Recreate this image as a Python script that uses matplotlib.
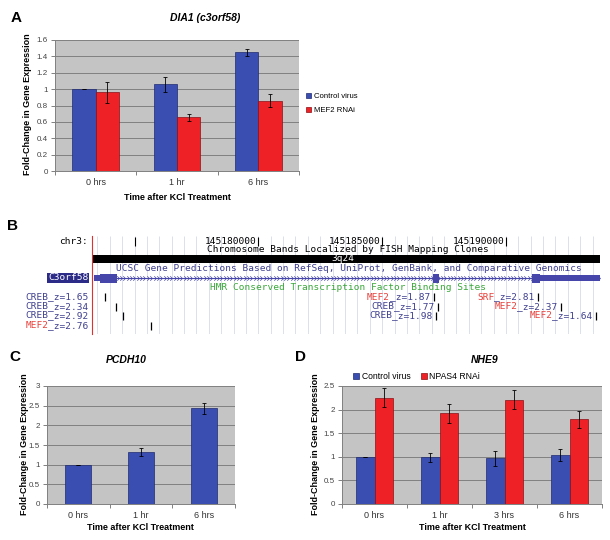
import numpy as np
import matplotlib.pyplot as plt
from matplotlib.path import Path
from matplotlib.ticker import FuncFormatter

plt.rcParams['font.family'] = ['Liberation Sans', 'DejaVu Sans']

# ---- A: DIA1 (c3orf58) ----
times_a = ['0 hrs', '1 hr', '6 hrs']
ctrl_a = [1.0, 1.06, 1.45]
ctrl_a_err = [0.0, 0.09, 0.045]
mef2_a = [0.96, 0.655, 0.86]
mef2_a_err = [0.13, 0.04, 0.075]

# ---- C: PCDH10 ----
times_c = ['0 hrs', '1 hr', '6 hrs']
pcdh10 = [1.0, 1.32, 2.43]
pcdh10_err = [0.0, 0.095, 0.15]

# ---- D: NHE9 ----
times_d = ['0 hrs', '1 hr', '3 hrs', '6 hrs']
ctrl_d = [1.0, 0.99, 0.97, 1.04]
ctrl_d_err = [0.0, 0.1, 0.16, 0.13]
npas4_d = [2.25, 1.92, 2.21, 1.80]
npas4_d_err = [0.2, 0.2, 0.2, 0.18]

# ---- B: UCSC browser view of chr3 ----
view = (145173280, 145193800)
base_ticks = [145175000, 145180000, 145185000, 145190000]
base_labels = ['', '145180000', '145185000', '145190000']
gene_span = (145173360, 145193800)
exon_start = [145173360, 145173600, 145187050, 145191050, 145191380]
exon_end = [145173600, 145174290, 145187290, 145191380, 145193800]
exon_thick = [False, True, True, True, False]
tf_names = ['CREB', 'CREB', 'CREB', 'MEF2', 'MEF2', 'CREB', 'CREB', 'SRF', 'MEF2', 'MEF2']
tf_z = [1.65, 2.34, 2.92, 2.76, 1.87, 1.77, 1.98, 2.81, 2.37, 1.64]
tf_pos = [145173810, 145174250, 145174530, 145175670, 145187080,
          145187250, 145187170, 145191300, 145192230, 145193640]
tf_row = [0, 1, 2, 3, 0, 1, 2, 0, 1, 2]
tf_left_label = [True, True, True, True, False, False, False, False, False, False]

W, H = 610, 540
fig = plt.figure(figsize=(W / 100, H / 100), dpi=100)

BLUE, BLUE_E = '#3a4db0', '#1f2a70'
RED, RED_E = '#ee2127', '#8a1015'


def px_axes(l, t, r, b):
    return fig.add_axes([l / W, 1 - b / H, (r - l) / W, (b - t) / H])


def ptext(x, y, s, **kw):
    kw.setdefault('ha', 'center')
    kw.setdefault('va', 'center')
    fig.text(x / W, 1 - y / H, s, **kw)


def bar_panel(box, cats, series, width, ymax, step):
    ax = px_axes(*box)
    ax.set_facecolor('#c4c4c4')
    x = np.arange(len(cats))
    n = len(series)
    for i, (vals, errs, col, edge, lab) in enumerate(series):
        off = (i - (n - 1) / 2) * width
        ax.bar(x + off, vals, width, color=col, edgecolor=edge, lw=0.5, label=lab, zorder=2)
        ax.errorbar(x + off, vals, yerr=errs, fmt='none', ecolor='black',
                    elinewidth=0.6, capsize=1.6, capthick=0.6, zorder=3)
    ax.set_xlim(-0.5, len(cats) - 0.5)
    ax.set_ylim(0, ymax)
    ax.set_yticks(np.arange(0, ymax + step / 2, step))
    ax.yaxis.set_major_formatter(FuncFormatter(lambda v, p: '%g' % round(v, 2)))
    ax.yaxis.grid(True, color='#808080', lw=0.7)
    ax.set_axisbelow(True)
    ax.set_xticks(x)
    ax.set_xticklabels(cats)
    ax.set_xticks(np.arange(len(cats) + 1) - 0.5, minor=True)
    ax.tick_params(axis='x', which='major', length=0, pad=5, labelsize=6.5, labelcolor='#333333')
    ax.tick_params(axis='x', which='minor', length=3, color='#808080', width=0.7)
    ax.tick_params(axis='y', length=3, color='#808080', width=0.7, pad=2,
                   labelsize=5.8, labelcolor='#444444')
    for s in ['top', 'right']:
        ax.spines[s].set_visible(False)
    for s in ['left', 'bottom']:
        ax.spines[s].set_color('#808080')
        ax.spines[s].set_linewidth(0.7)
    return ax


# ---------- panel A ----------
ax_a = bar_panel((55, 40, 299, 171), times_a,
                 [(ctrl_a, ctrl_a_err, BLUE, BLUE_E, 'Control virus'),
                  (mef2_a, mef2_a_err, RED, RED_E, 'MEF2 RNAi')],
                 0.287, 1.6, 0.2)
ax_a.legend(loc='upper left', bbox_to_anchor=(306 / W, 1 - 93 / H), bbox_transform=fig.transFigure,
            frameon=False, fontsize=5.6, handlelength=0.7, handleheight=0.7,
            handletextpad=0.3, labelspacing=0.8, borderpad=0, borderaxespad=0)
ptext(16, 18, 'A', fontsize=11, fontweight='bold')
ptext(205, 18, 'DIA1 (c3orf58)', fontsize=7.5, fontweight='bold', style='italic')
ptext(28, 104, 'Fold-Change in Gene Expression', fontsize=6.5, fontweight='bold', rotation=90)
ptext(177, 197, 'Time after KCl Treatment', fontsize=6.5, fontweight='bold')

# ---------- panel C ----------
ax_c = bar_panel((47, 386, 235, 504), times_c,
                 [(pcdh10, pcdh10_err, BLUE, BLUE_E, 'Control virus')],
                 0.41, 3, 0.5)
ptext(15, 357, 'C', fontsize=11, fontweight='bold')
ptext(126, 360, 'PCDH10', fontsize=7.5, fontweight='bold', style='italic')
ptext(25, 444, 'Fold-Change in Gene Expression', fontsize=6.5, fontweight='bold', rotation=90)
ptext(140, 528, 'Time after KCl Treatment', fontsize=6.5, fontweight='bold')

# ---------- panel D ----------
ax_d = bar_panel((342, 386, 602, 504), times_d,
                 [(ctrl_d, ctrl_d_err, BLUE, BLUE_E, 'Control virus'),
                  (npas4_d, npas4_d_err, RED, RED_E, 'NPAS4 RNAi')],
                 0.29, 2.5, 0.5)
ax_d.legend(loc='upper left', bbox_to_anchor=(353 / W, 1 - 372 / H), bbox_transform=fig.transFigure,
            ncol=2, frameon=False, fontsize=6.2, handlelength=0.7, handleheight=0.7,
            handletextpad=0.3, columnspacing=1.2, borderpad=0, borderaxespad=0)
ptext(301, 357, 'D', fontsize=11, fontweight='bold')
ptext(485, 360, 'NHE9', fontsize=7.5, fontweight='bold', style='italic')
ptext(315, 444, 'Fold-Change in Gene Expression', fontsize=6.5, fontweight='bold', rotation=90)
ptext(472, 528, 'Time after KCl Treatment', fontsize=6.5, fontweight='bold')

# ---------- panel B: genome browser ----------
MONO = 'DejaVu Sans Mono'
FS = 6.8
CW = 0.602 * FS  # monospace advance in points
TXT_BLUE = '#404090'
TXT_RED = '#e8403a'
GENE = '#4646aa'

ax_b = px_axes(92, 236, 600, 334)
ax_b.set_xlim(*view)
ax_b.set_ylim(334, 236)  # y in figure pixel rows
ax_b.set_xticks([])
ax_b.set_yticks([])
for s in ['top', 'right', 'bottom']:
    ax_b.spines[s].set_visible(False)
ax_b.spines['left'].set_color('#e03030')
ax_b.spines['left'].set_linewidth(0.8)

# light base-position grid
ax_b.vlines(np.arange(145173500, view[1], 500), 236, 334, color='#d6d9ea', lw=0.6, zorder=0)


def mono(x, y, parts, align='right', xycoords='data', dx=0):
    n = sum(len(s) for s, c in parts)
    off = {'right': -n * CW, 'center': -n * CW / 2, 'left': 0}[align] + dx
    for s, c in parts:
        ax_b.annotate(s, (x, y), xycoords=xycoords, xytext=(off, 0), textcoords='offset points',
                      ha='left', va='center', family=MONO, fontsize=FS, color=c,
                      annotation_clip=False)
        off += len(s) * CW


mid = (view[0] + view[1]) / 2
# base position ruler
mono(88, 241, [('chr3:', 'black')], xycoords=('figure pixels', 'data'))
ax_b.vlines(base_ticks, 237, 245.5, color='black', lw=0.8)
for p, lab in zip(base_ticks, base_labels):
    if lab:
        mono(p, 241, [(lab, 'black')], dx=-1.5)

# chromosome band
mono(mid, 249.5, [('Chromosome Bands Localized by FISH Mapping Clones', 'black')], align='center')
ax_b.fill_between(view, 254.5, 262.5, color='black', lw=0)
mono(mid - 150, 258.5, [('3q24', 'white')], align='center')

# gene track
mono(mid, 268.5, [('UCSC Gene Predictions Based on RefSeq, UniProt, GenBank, and Comparative Genomics',
                   TXT_BLUE)], align='center')
ax_b.plot(gene_span, [278, 278], color=GENE, lw=0.8)
chev = Path([(-0.5, 0.9), (0.4, 0), (-0.5, -0.9)], [Path.MOVETO, Path.LINETO, Path.LINETO])
arrow_x = np.arange(gene_span[0] + 150, gene_span[1], 135)
ax_b.plot(arrow_x, np.full(len(arrow_x), 278), ls='none', marker=chev, ms=3.2,
          mfc='none', mec=GENE, mew=0.5)
for s0, s1, thick in zip(exon_start, exon_end, exon_thick):
    h = 4.5 if thick else 2.6
    ax_b.fill_between([s0, s1], 278 - h, 278 + h, color=GENE, lw=0, zorder=3)
ax_b.annotate('C3orf58', (91, 278), xycoords=('figure pixels', 'data'), xytext=(-2, 0),
              textcoords='offset points', ha='right', va='center', family=MONO, fontsize=FS,
              color='white', annotation_clip=False,
              bbox=dict(boxstyle='square,pad=0.08', fc='#2c2c88', ec='none'))

# TFBS track
mono(mid, 287.5, [('HMR Conserved Transcription Factor Binding Sites', '#3aa83a')], align='center')
row_y = [297, 306.5, 316, 325.5]
for name, z, pos, row, left in zip(tf_names, tf_z, tf_pos, tf_row, tf_left_label):
    y = row_y[row]
    ax_b.vlines(pos, y - 4, y + 4, color='black', lw=0.9)
    parts = [(name, TXT_RED if name != 'CREB' else TXT_BLUE), ('_z=%.2f' % z, TXT_BLUE)]
    if left:
        mono(88, y, parts, xycoords=('figure pixels', 'data'))
    else:
        mono(pos, y, parts, dx=-3)

ptext(12, 226, 'B', fontsize=11, fontweight='bold')

fig.savefig('out.png', dpi=100)
